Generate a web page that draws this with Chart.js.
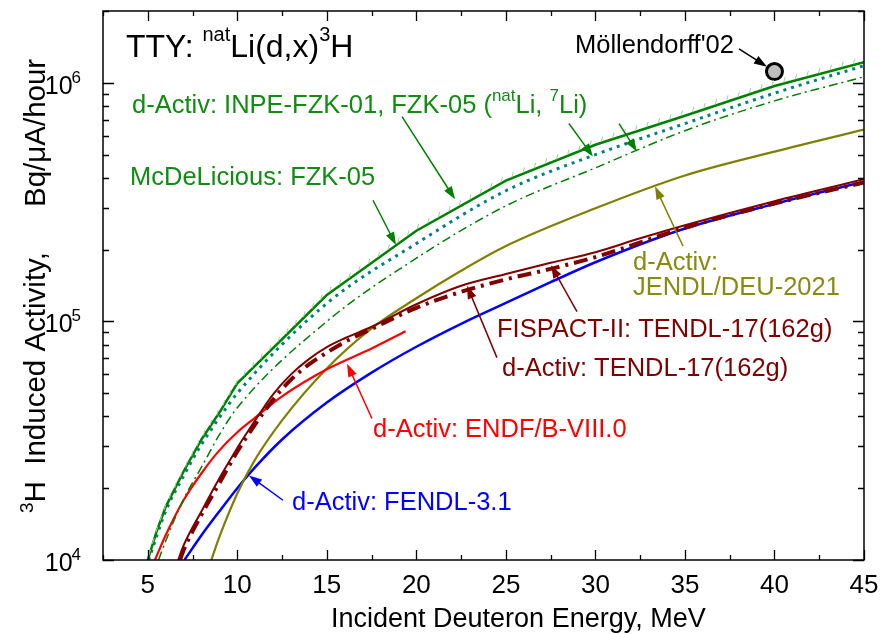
<!DOCTYPE html>
<html>
<head>
<meta charset="utf-8">
<script src="https://cdn.jsdelivr.net/npm/chart.js@4.4.0/dist/chart.umd.min.js"></script>
<style>
  html, body { margin: 0; padding: 0; background: #fff; }
  canvas { display: block; }
</style>
</head>
<body>
<canvas id="ttyChart" width="881" height="634"></canvas>
<script>
// TTY natLi(d,x)3H (Bq/uA/hour)
const xTicks = [5, 10, 15, 20, 25, 30, 35, 40, 45];
const yDecades = [1e4, 1e5, 1e6];

const eInpe = [5, 5.5, 6, 7, 8, 9, 10, 15, 20, 25, 30, 35, 40, 45];
const inpeFzk = [1.0e4, 1.32e4, 1.67e4, 2.35e4, 3.2e4, 4.15e4, 5.5e4, 1.29e5, 2.4e5, 3.89e5, 5.5e5, 7.28e5, 9.7e5, 1.22e6];

const eFzkNat = [5.05, 6, 7, 8, 9, 10, 15, 20, 25, 30, 35, 40, 45];
const fzkNat = [1.0e4, 1.6e4, 2.25e4, 3.05e4, 3.95e4, 5.0e4, 1.19e5, 2.12e5, 3.53e5, 5.0e5, 6.75e5, 9.05e5, 1.18e6];

const eFzk7 = [5.6, 6, 7, 8, 9, 10, 15, 20, 25, 30, 35, 40, 45];
const fzk7 = [1.0e4, 1.2e4, 1.8e4, 2.45e4, 3.35e4, 4.35e4, 1.0e5, 1.84e5, 3.05e5, 4.4e5, 6.3e5, 8.4e5, 1.06e6];

const eJendl = [8.55, 9, 10, 11, 12.5, 15, 17.5, 20, 22.5, 25, 30, 35, 40, 45];
const jendl = [1.0e4, 1.25e4, 1.9e4, 2.64e4, 3.85e4, 6.35e4, 9.35e4, 1.25e5, 1.63e5, 2.07e5, 2.98e5, 4.09e5, 5.15e5, 6.37e5];

const eFendl = [7.05, 8, 9, 10, 11, 12.5, 15, 17.5, 20, 22.5, 25, 27.5, 30, 35, 40, 45];
const fendl = [1.0e4, 1.27e4, 1.6e4, 2.0e4, 2.45e4, 3.2e4, 4.57e4, 6.1e4, 7.83e4, 9.77e4, 1.195e5, 1.46e5, 1.77e5, 2.45e5, 3.11e5, 3.85e5];

const eTendl = [6.7, 7, 8, 9, 10, 11, 12, 13, 14, 15, 16, 17.5, 20, 22.5, 25, 27.5, 30, 32.5, 35, 40, 45];
const tendl = [1.0e4, 1.15e4, 1.6e4, 2.2e4, 2.95e4, 3.85e4, 4.95e4, 6.0e4, 6.95e4, 7.8e4, 8.5e4, 9.5e4, 1.18e5, 1.41e5, 1.58e5, 1.76e5, 1.95e5, 2.23e5, 2.53e5, 3.19e5, 3.94e5];

const eFispact = [6.8, 7, 8, 9, 10, 11, 12, 13, 14, 15, 16, 17.5, 20, 22.5, 25, 27.5, 30, 35, 40, 45];
const fispact = [1.0e4, 1.1e4, 1.55e4, 2.1e4, 2.85e4, 3.7e4, 4.7e4, 5.7e4, 6.6e4, 7.4e4, 8.2e4, 9.3e4, 1.14e5, 1.33e5, 1.5e5, 1.66e5, 1.86e5, 2.47e5, 3.12e5, 3.82e5];

const eEndf = [5.4, 6, 7, 8, 9, 10, 11, 12.5, 15, 17.5, 19.4];
const endf = [1.0e4, 1.27e4, 1.78e4, 2.31e4, 2.88e4, 3.43e4, 3.95e4, 4.85e4, 6.3e4, 7.7e4, 9.1e4];

const eMoll = [40];
const moll = [1.115e6];

const FONT = '"Liberation Sans", Arial, Helvetica, sans-serif';
const GREEN = '#008000', GREEN_TXT = '#108c10', TEAL = '#008080', OLIVE = '#808000', OLIVE_TXT = '#8a8a12';
const BLUE = '#0000ff', RED = '#ff0000', DKRED = '#800000';

function toPoints(es, vs) {
    return es.map((e, i) => ({ x: e, y: vs[i] }));
}

// texto com sobrescritos
function richText(ctx, x, y, parts, color) {
    let cx = x;
    ctx.fillStyle = color;
    ctx.textAlign = 'left';
    ctx.textBaseline = 'alphabetic';
    parts.forEach(p => {
        ctx.font = p.size + 'px ' + FONT;
        ctx.fillText(p.t, cx, y - (p.rise || 0));
        cx += ctx.measureText(p.t).width;
    });
}

function arrow(ctx, x1, y1, x2, y2, color) {
    const ang = Math.atan2(y2 - y1, x2 - x1);
    const hl = 13, hw = 4.5;
    ctx.strokeStyle = color;
    ctx.fillStyle = color;
    ctx.lineWidth = 1.5;
    ctx.setLineDash([]);
    ctx.beginPath();
    ctx.moveTo(x1, y1);
    ctx.lineTo(x2 - Math.cos(ang) * hl * 0.8, y2 - Math.sin(ang) * hl * 0.8);
    ctx.stroke();
    ctx.beginPath();
    ctx.moveTo(x2, y2);
    ctx.lineTo(x2 - Math.cos(ang) * hl - Math.sin(ang) * hw, y2 - Math.sin(ang) * hl + Math.cos(ang) * hw);
    ctx.lineTo(x2 - Math.cos(ang) * hl + Math.sin(ang) * hw, y2 - Math.sin(ang) * hl - Math.cos(ang) * hw);
    ctx.closePath();
    ctx.fill();
}

// setas: cauda e ponta em coordenadas de dados (MeV, Bq/uA/h)
const arrows = [
    { from: [38.02, 1.387e6], to: [39.58, 1.167e6], color: '#000' },
    { from: [19.2, 7.21e5], to: [22.16, 3.25e5], color: GREEN },
    { from: [28.52, 6.75e5], to: [29.86, 4.91e5], color: GREEN },
    { from: [31.32, 6.75e5], to: [32.32, 5.15e5], color: GREEN },
    { from: [17.58, 3.22e5], to: [18.86, 2.09e5], color: GREEN },
    { from: [34.89, 2.07e5], to: [33.33, 3.68e5], color: OLIVE },
    { from: [28.97, 1.10e5], to: [27.52, 1.72e5], color: DKRED },
    { from: [24.5, 7.05e4], to: [22.83, 1.41e5], color: DKRED },
    { from: [17.52, 3.92e4], to: [16.13, 6.65e4], color: RED },
    { from: [12.55, 1.78e4], to: [10.65, 2.26e4], color: BLUE }
];

const LBL = 25.5, SUP = 17;
const labels = [
    { x: 132, y: 113, color: GREEN_TXT, parts: [
        { t: 'd-Activ: INPE-FZK-01, FZK-05 (', size: LBL },
        { t: 'nat', size: SUP, rise: 12 },
        { t: 'Li, ', size: LBL },
        { t: '7', size: SUP, rise: 12 },
        { t: 'Li)', size: LBL }] },
    { x: 130, y: 185, color: GREEN_TXT, parts: [{ t: 'McDeLicious: FZK-05', size: LBL }] },
    { x: 633, y: 270, color: OLIVE_TXT, parts: [{ t: 'd-Activ:', size: LBL }] },
    { x: 633, y: 295, color: OLIVE_TXT, parts: [{ t: 'JENDL/DEU-2021', size: LBL }] },
    { x: 497, y: 337, color: DKRED, parts: [{ t: 'FISPACT-II: TENDL-17(162g)', size: LBL }] },
    { x: 502, y: 376, color: DKRED, parts: [{ t: 'd-Activ: TENDL-17(162g)', size: LBL }] },
    { x: 373, y: 437, color: RED, parts: [{ t: 'd-Activ: ENDF/B-VIII.0', size: LBL }] },
    { x: 292, y: 510, color: BLUE, parts: [{ t: 'd-Activ: FENDL-3.1', size: LBL }] },
    { x: 575, y: 53, color: '#000', parts: [{ t: "Möllendorff'02", size: LBL }] },
    { x: 126, y: 57, color: '#000', parts: [
        { t: 'TTY: ', size: 32 },
        { t: 'nat', size: 20, rise: 16 },
        { t: 'Li(d,x)', size: 32 },
        { t: '3', size: 20, rise: 16 },
        { t: 'H', size: 32 }] }
];

const framePlugin = {
    id: 'framePlugin',
    afterDatasetsDraw(chart) {
        const ctx = chart.ctx;
        const a = chart.chartArea;

        // hachuras no INPE-FZK-01
        const pts = chart.getDatasetMeta(0).data.map(p => ({ x: p.x, y: p.y }));
        ctx.save();
        ctx.beginPath();
        ctx.rect(a.left, a.top, a.right - a.left, a.bottom - a.top);
        ctx.clip();
        ctx.strokeStyle = '#9ad29a';
        ctx.lineWidth = 1;
        let carry = 4;
        for (let i = 1; i < pts.length; i++) {
            const dx = pts[i].x - pts[i - 1].x, dy = pts[i].y - pts[i - 1].y;
            const len = Math.hypot(dx, dy);
            let s = carry;
            while (s < len) {
                const px = pts[i - 1].x + dx * s / len, py = pts[i - 1].y + dy * s / len;
                ctx.beginPath();
                ctx.moveTo(px, py - 1);
                ctx.lineTo(px + 1.5, py - 6.5);
                ctx.stroke();
                s += 12;
            }
            carry = s - len;
        }
        ctx.restore();
    },
    afterDraw(chart) {
        const ctx = chart.ctx;
        const a = chart.chartArea;
        const xs = chart.scales.x, ys = chart.scales.y;
        ctx.save();
        ctx.setLineDash([]);
        ctx.strokeStyle = '#000';
        ctx.lineWidth = 1.5;
        ctx.strokeRect(a.left, a.top, a.right - a.left, a.bottom - a.top);

        // marcas do eixo x (para dentro, em baixo e em cima)
        ctx.lineWidth = 1.3;
        for (let v = xs.min; v <= xs.max + 1e-9; v += 2.5) {
            const px = Math.round(xs.getPixelForValue(v)) + 0.5;
            const len = (Math.abs(v % 5) < 1e-9) ? 10 : 5;
            ctx.beginPath();
            ctx.moveTo(px, a.bottom); ctx.lineTo(px, a.bottom - len);
            ctx.moveTo(px, a.top); ctx.lineTo(px, a.top + len);
            ctx.stroke();
        }
        // marcas do eixo y (log)
        yDecades.forEach(d => {
            for (let m = 1; m <= 9; m++) {
                const v = d * m;
                if (v > ys.max * 1.0001) break;
                const py = Math.round(ys.getPixelForValue(v)) + 0.5;
                const len = m === 1 ? 11 : 6;
                ctx.beginPath();
                ctx.moveTo(a.left, py); ctx.lineTo(a.left + len, py);
                ctx.moveTo(a.right, py); ctx.lineTo(a.right - len, py);
                ctx.stroke();
            }
        });

        // rótulos x
        ctx.fillStyle = '#000';
        ctx.font = '26px ' + FONT;
        ctx.textAlign = 'center';
        ctx.textBaseline = 'alphabetic';
        xTicks.forEach(v => ctx.fillText(String(v), xs.getPixelForValue(v), a.bottom + 33));

        // rótulos y: 10^n
        yDecades.forEach(d => {
            const py = ys.getPixelForValue(d);
            const sup = String(Math.round(Math.log10(d)));
            ctx.font = '17px ' + FONT;
            const sw = ctx.measureText(sup).width;
            ctx.textAlign = 'left';
            ctx.fillText(sup, a.left - 22 - sw, py);
            ctx.font = '25px ' + FONT;
            ctx.textAlign = 'right';
            ctx.fillText('10', a.left - 22 - sw + 1, py + 11);
        });

        // títulos dos eixos
        ctx.font = '27px ' + FONT;
        ctx.textAlign = 'left';
        ctx.fillText('Incident Deuteron Energy, MeV', 331, 627);

        ctx.save();
        ctx.translate(45, 513);
        ctx.rotate(-Math.PI / 2);
        richText(ctx, 0, 0, [
            { t: '3', size: 19, rise: 12 },
            { t: 'H  Induced Activity,', size: 29.5 }], '#000');
        ctx.restore();
        ctx.save();
        ctx.translate(45, 207);
        ctx.rotate(-Math.PI / 2);
        richText(ctx, 0, 0, [{ t: 'Bq/\u03bcA/hour', size: 29.5 }], '#000');
        ctx.restore();

        // setas e textos
        arrows.forEach(ar => {
            arrow(ctx,
                xs.getPixelForValue(ar.from[0]), ys.getPixelForValue(ar.from[1]),
                xs.getPixelForValue(ar.to[0]), ys.getPixelForValue(ar.to[1]), ar.color);
        });
        labels.forEach(l => richText(ctx, l.x, l.y, l.parts, l.color));
        ctx.restore();
    }
};

document.addEventListener('DOMContentLoaded', function() {
    const canvas = document.getElementById('ttyChart');
    const line = (label, es, vs, color, width, dash, smooth) => ({
        label: label,
        data: toPoints(es, vs),
        borderColor: color,
        borderWidth: width,
        borderDash: dash,
        pointRadius: 0,
        fill: false,
        tension: 0,
        cubicInterpolationMode: smooth ? 'monotone' : 'default'
    });

    new Chart(canvas.getContext('2d'), {
        type: 'line',
        data: {
            datasets: [
                line('d-Activ: INPE-FZK-01', eInpe, inpeFzk, GREEN, 2.5, [], false),
                {
                    label: "Möllendorff'02",
                    data: toPoints(eMoll, moll),
                    showLine: false,
                    pointRadius: 8,
                    pointBackgroundColor: '#bdbdbd',
                    pointBorderColor: '#000',
                    pointBorderWidth: 3
                },
                line('d-Activ: FZK-05 natLi', eFzkNat, fzkNat, TEAL, 3, [3, 5], true),
                line('McDeLicious: FZK-05', eFzk7, fzk7, GREEN, 1.5, [9, 4, 2, 4], true),
                line('FISPACT-II: TENDL-17(162g)', eFispact, fispact, DKRED, 4, [14, 6, 3, 6], true),
                line('d-Activ: TENDL-17(162g)', eTendl, tendl, DKRED, 2, [], true),
                line('d-Activ: ENDF/B-VIII.0', eEndf, endf, RED, 2.2, [], true),
                line('d-Activ: JENDL/DEU-2021', eJendl, jendl, OLIVE, 2.2, [], true),
                line('d-Activ: FENDL-3.1', eFendl, fendl, BLUE, 2.5, [], true)
            ]
        },
        options: {
            responsive: false,
            animation: false,
            layout: { padding: { left: 0, right: 17, top: 9, bottom: 0 } },
            plugins: {
                legend: { display: false },
                tooltip: { enabled: false }
            },
            scales: {
                x: {
                    type: 'linear', min: 2.5, max: 45,
                    grid: { display: false }, border: { display: false },
                    ticks: { display: false },
                    afterFit: s => { s.height = 74; }
                },
                y: {
                    type: 'logarithmic', min: 1e4, max: 2e6,
                    grid: { display: false }, border: { display: false },
                    ticks: { display: false },
                    afterFit: s => { s.width = 103; }
                }
            }
        },
        plugins: [framePlugin]
    });
});
</script>
</body>
</html>
